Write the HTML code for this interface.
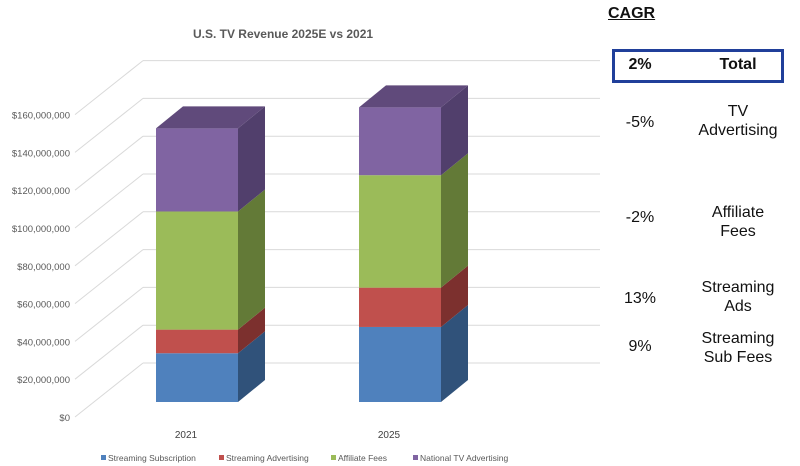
<!DOCTYPE html>
<html><head><meta charset="utf-8"><style>
body{margin:0;background:#fff;width:800px;height:466px;overflow:hidden;position:relative;font-family:"Liberation Sans",Arial,sans-serif}
.r{position:absolute;font-size:16px;color:#111;text-align:center;line-height:19px}
</style></head><body>
<svg id="chart" width="600" height="466" style="position:absolute;left:0;top:0" font-family="Liberation Sans, sans-serif">
<text x="283" y="38" text-anchor="middle" font-size="12" font-weight="bold" fill="#595959">U.S. TV Revenue 2025E vs 2021</text>
<g id="grid"></g><g id="bars"></g><g id="legend"></g>
</svg>
<div style="position:absolute;left:608px;top:5px;font-size:16px;font-weight:bold;text-decoration:underline;color:#111">CAGR</div>
<div style="position:absolute;left:612px;top:49px;width:166px;height:28px;border:3px solid #203f9a"></div>
<div class="r" style="left:610px;top:55px;width:60px;font-weight:bold">2%</div>
<div class="r" style="left:690px;top:55px;width:96px;font-weight:bold">Total</div>
<div class="r" style="left:610px;top:113px;width:60px">-5%</div>
<div class="r" style="left:680px;top:102px;width:116px">TV<br>Advertising</div>
<div class="r" style="left:610px;top:208px;width:60px">-2%</div>
<div class="r" style="left:680px;top:203px;width:116px">Affiliate<br>Fees</div>
<div class="r" style="left:610px;top:289px;width:60px">13%</div>
<div class="r" style="left:680px;top:278px;width:116px">Streaming<br>Ads</div>
<div class="r" style="left:610px;top:337px;width:60px">9%</div>
<div class="r" style="left:680px;top:329px;width:116px">Streaming<br>Sub Fees</div>
<script>
const categories=["2021","2025"];
const seriesNames=["Streaming Subscription","Streaming Advertising","Affiliate Fees","National TV Advertising"];
const streamingSub=[25.8,39.7];
const streamingAds=[12.5,20.8];
const affiliateFees=[62.5,59.5];
const nationalTV=[44,35.9];
const ticks=[0,20,40,60,80,100,120,140,160];
const tickLabels=["$0","$20,000,000","$40,000,000","$60,000,000","$80,000,000","$100,000,000","$120,000,000","$140,000,000","$160,000,000"];
const NS="http://www.w3.org/2000/svg";
const pxPerM=37.8/20;
const yFront=v=>402-v*pxPerM, yLabel=v=>418-v*pxPerM, yBack=v=>363-v*pxPerM;
const xBar=i=>156+i*203;
const BW=82,DX=27,DY=22;
function mk(t,a,p){const e=document.createElementNS(NS,t);for(const k in a)e.setAttribute(k,a[k]);p.appendChild(e);return e;}
const grid=document.getElementById('grid');
ticks.forEach((t,i)=>{
  const l=mk('line',{x1:143,y1:yBack(t),x2:600,y2:yBack(t),stroke:'#d9d9d9','stroke-width':1},grid);
  
  
  const d=mk('line',{x1:75,y1:yLabel(t)-1,x2:143,y2:yBack(t),stroke:'#d9d9d9','stroke-width':1},grid);
  
  
  const tx=mk('text',{x:70,y:yLabel(t)+3,'text-anchor':'end','font-size':9.5,fill:'#595959'},grid);
  tx.textContent=tickLabels[i];
  
  
});
const front=["#4f81bd","#c0504d","#9bbb59","#8064a2"],side=["#30527a","#7c302e","#637a37","#513f6c"];
const data=[streamingSub,streamingAds,affiliateFees,nationalTV];
const bars=document.getElementById('bars');
categories.forEach((c,i)=>{
  let base=0;const x=xBar(i);
  data.forEach((s,k)=>{
    const v=s[i],y0=yFront(base),y1=yFront(base+v);
    const g=mk('g',{},bars);
    
    
    mk('rect',{x:x,y:y1,width:BW,height:y0-y1,fill:front[k]},g);
    mk('polygon',{points:`${x+BW},${y0} ${x+BW+DX},${y0-DY} ${x+BW+DX},${y1-DY} ${x+BW},${y1}`,fill:side[k]},g);
    if(k===data.length-1) mk('polygon',{points:`${x},${y1} ${x+DX},${y1-DY} ${x+BW+DX},${y1-DY} ${x+BW},${y1}`,fill:'#604a7b'},g);
    base+=v;
  });
  const t=mk('text',{x:x+30,y:438,'text-anchor':'middle','font-size':10,fill:'#404040'},bars);
  t.textContent=c;
  
  
});
const leg=document.getElementById('legend');
const lx=[101,219,331,413];
seriesNames.forEach((n,k)=>{
  const g=mk('g',{},leg);
  
  
  mk('rect',{x:lx[k],y:455,width:5,height:5,fill:front[k]},g);
  const t=mk('text',{x:lx[k]+7,y:461,'font-size':8.5,fill:'#595959'},g);t.textContent=n;
});
</script>
</body></html>
